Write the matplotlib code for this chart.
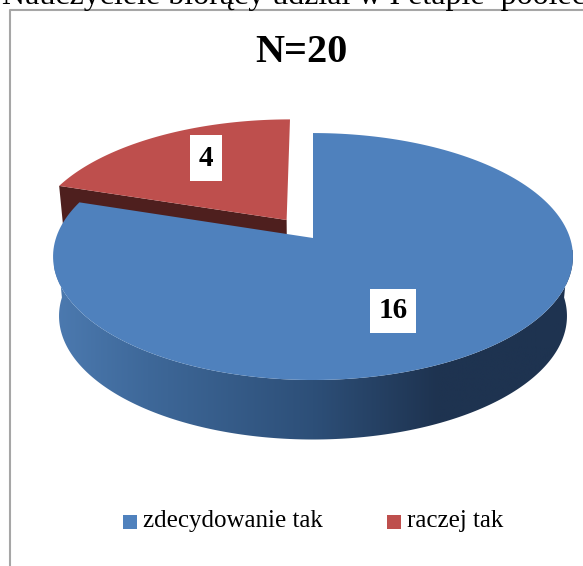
#!/usr/bin/env python3
import numpy as np
import matplotlib
matplotlib.use("Agg")
import matplotlib.pyplot as plt
from matplotlib.colors import LinearSegmentedColormap
from matplotlib.patches import Polygon, Rectangle

categories = ["zdecydowanie tak", "raczej tak"]
values = [16, 4]
chart_title = "N=20"
cut_off_text = "Nauczyciele biorący udział w I etapie  poolec"

blue = "#4F81BD"
red = "#BE4F4D"
dark_red = "#4E1F1E"
side_colors = ["#4C7AB0", "#3E6899", "#2D4F78", "#1E3350", "#1E3350"]

W, H = 583, 566
plt.rcParams["font.family"] = ["Liberation Serif", "DejaVu Serif"]

fig = plt.figure(figsize=(W / 100, H / 100), dpi=100)
ax = fig.add_axes([0, 0, 1, 1])
ax.set_xlim(0, W)
ax.set_ylim(H, 0)
ax.axis("off")


# circle in the plane -> picture, with a bit of perspective
def project(px, py, depth=0.0):
    w = 1 + 0.15 * py
    x = 313 + 257 * px / w
    y = 238 - 120.7 * py / w
    # lower rim of the disc is slightly narrower
    x = 313 + (x - 313) * (1 - 0.023 * depth)
    return x, y + 59.5 * depth


# angles are clockwise from the top
def wedge(a0, a1, off=(0, 0), depth=0.0):
    t = np.radians(np.linspace(a0, a1, 200))
    px = np.r_[off[0], off[0] + np.sin(t)]
    py = np.r_[off[1], off[1] + np.cos(t)]
    return np.column_stack(project(px, py, depth))


shares = np.array(values) / sum(values) * 360
blue_start, blue_end = 0, shares[0]
red_start, red_end = blue_end, blue_end + shares[1]
red_off = (-0.105, 0.1526)

# frame of the chart
ax.plot([10, 10, W + 5], [H + 5, 9.5, 9.5], color="#A6A6A6", lw=1.5, zorder=1)
ax.text(2, -4, cut_off_text, fontsize=23, ha="left", va="center", color="black", zorder=1)

# red slice, side first, blue covers the lower part of it
red_low = wedge(red_start, red_end, red_off, 0.75)
red_top = wedge(red_start, red_end, red_off)
ax.add_patch(Polygon(np.r_[red_top[[0, 1]], red_low[[1, 0]]], fc=dark_red, ec="none", zorder=2))
ax.add_patch(Polygon(red_top, fc=red, ec="none", zorder=3))

# blue side with the shading left to right
t = np.radians(np.linspace(270, 90, 300))
upper = np.column_stack(project(np.sin(t), np.cos(t)))
lower = np.column_stack(project(np.sin(t), np.cos(t), 1.0))
side = Polygon(np.r_[upper, lower[::-1]], fc="none", ec="none", zorder=4)
ax.add_patch(side)
cmap = LinearSegmentedColormap.from_list("side", list(zip([0, 0.18, 0.5, 0.74, 1], side_colors)))
im = ax.imshow(np.linspace(0, 1, 256)[None, :], cmap=cmap, extent=[54, 573, 445, 250], aspect="auto", zorder=4)
im.set_clip_path(side)
ax.set_xlim(0, W)
ax.set_ylim(H, 0)

# blue top
ax.add_patch(Polygon(wedge(blue_start, blue_end), fc=blue, ec="none", zorder=5))

# value labels
ax.text(206, 158, str(values[1]), fontsize=21, fontweight="bold", ha="center", va="center", zorder=6,
        bbox=dict(fc="white", ec="none", pad=6.5))
ax.text(393, 311, str(values[0]), fontsize=21, fontweight="bold", ha="center", va="center", zorder=6,
        bbox=dict(fc="white", ec="none", pad=6))
ax.text(301, 53, chart_title, fontsize=29, fontweight="bold", ha="center", va="center", zorder=6)

# legend
ax.add_patch(Rectangle((123, 515), 13.5, 13.5, fc=blue, ec="none", zorder=6))
ax.text(143, 521, categories[0], fontsize=18, ha="left", va="center", zorder=6)
ax.add_patch(Rectangle((387, 515), 13.5, 13.5, fc=red, ec="none", zorder=6))
ax.text(407, 521, categories[1], fontsize=18, ha="left", va="center", zorder=6)

fig.savefig("out.png", dpi=100)
